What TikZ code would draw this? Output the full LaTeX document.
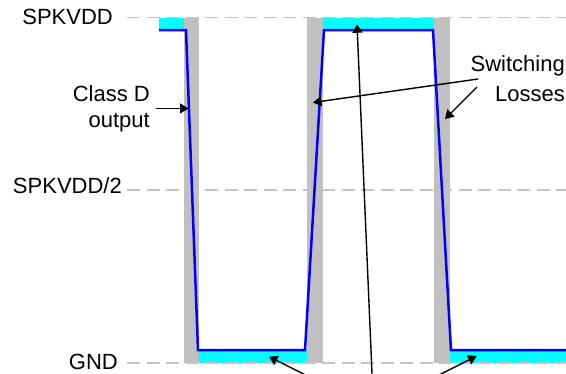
\documentclass[tikz,border=0pt]{standalone}
\usepackage{fontspec}
\setmainfont{Liberation Sans}
\usetikzlibrary{arrows.meta}
\definecolor{barg}{HTML}{C0C0C0}
\definecolor{cyanf}{HTML}{00FFFF}
\definecolor{wave}{HTML}{0000FF}
\definecolor{dashg}{HTML}{C4C4C4}
\tikzset{
  lvl/.style={draw=dashg, line width=1.5pt, dash pattern=on 13pt off 6.5pt},
  lossbar/.style={fill=barg},
  condfill/.style={fill=cyanf},
  wavel/.style={draw=wave, line width=2.5pt, line join=miter},
  lbl/.style={inner sep=0pt, font=\fontsize{22}{26}\selectfont},
  arr/.style={draw=black, line width=1.4pt, -{Triangle[length=8.5pt,width=10pt]}},
}
\begin{document}
\begin{tikzpicture}[x=1pt,y=-1pt]
\useasboundingbox (0,0) rectangle (566,373);
\clip (0,0) rectangle (566,373);
% switching-loss bars
\fill[lossbar] (184,17.5) rectangle (199,363);
\fill[lossbar] (307,17.5) rectangle (323,363);
\fill[lossbar] (434,17.5) rectangle (450,363);
% conduction-loss fills
\fill[condfill] (159,17.5) rectangle (184,30);
\fill[condfill] (323,17.5) rectangle (434,30);
\fill[condfill] (199,350) rectangle (307,363);
\fill[condfill] (450,350) rectangle (566,363);
% level lines
\coordinate (l1s) at (127,17.5); \coordinate (l1e) at (566,17.5);
\coordinate (l2s) at (127,190);  \coordinate (l2e) at (566,190);
\coordinate (l3s) at (127,363);  \coordinate (l3e) at (566,363);
\draw[lvl] (l1s) -- (l1e);
\draw[lvl] (l2s) -- (l2e);
\draw[lvl] (l3s) -- (l3e);
% waveform
\draw[wavel] (159,30) -- (186,30) -- (198,350) -- (305,350) -- (324,30)
  -- (433,30) -- (451,350) -- (567,350);
% labels
\node[lbl, anchor=base east] (spk) at (113,24) {SPKVDD};
\node[lbl, anchor=base east] (half) at (122,193.5) {SPKVDD/2};
\node[lbl, anchor=base east] (gnd) at (118,369) {GND};
\node[lbl, align=right, anchor=north east] (classd) at (150,85) {Class D\\output};
\node[lbl, align=right, anchor=north east, font=\fontsize{22}{30}\selectfont] (sw) at (565,55) {Switching\\Losses};
% arrows
\coordinate (cds) at ([xshift=6pt]classd.east);
\coordinate (cdt) at ([xshift=38.5pt]classd.east);
\draw[arr] (cds) -- (cdt);
\coordinate (sw1s) at (478,79);   \coordinate (sw1t) at (313,102.5);
\coordinate (sw2s) at (477,87);   \coordinate (sw2t) at (445,119);
\draw[arr] (sw1s) -- (sw1t);
\draw[arr] (sw2s) -- (sw2t);
\coordinate (b1s) at (315.7,380); \coordinate (b1t) at (269,356.7);
\coordinate (b2s) at (372.3,380); \coordinate (b2t) at (357,24.3);
\coordinate (b3s) at (429,380);   \coordinate (b3t) at (476.7,356);
\draw[arr] (b1s) -- (b1t);
\draw[arr] (b2s) -- (b2t);
\draw[arr] (b3s) -- (b3t);
\end{tikzpicture}
\end{document}
